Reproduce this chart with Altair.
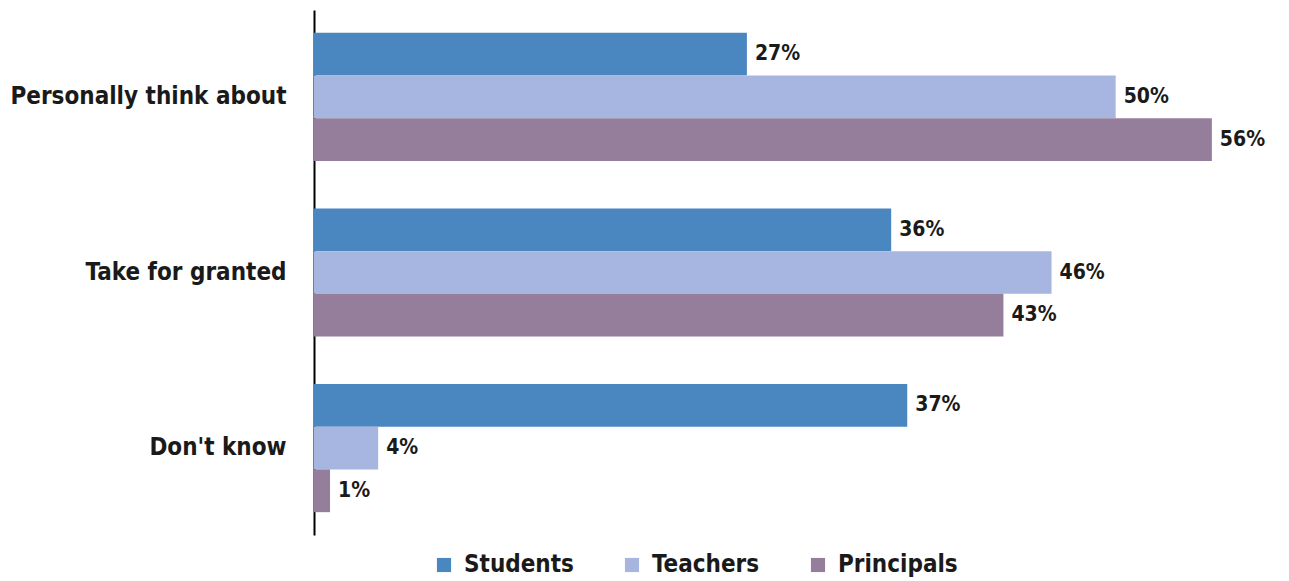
import altair as alt
import pandas as pd

categories = ["Personally think about", "Take for granted", "Don't know"]
groups = ["Students", "Teachers", "Principals"]
students = [27, 36, 37]
teachers = [50, 46, 4]
principals = [56, 43, 1]
colors = ["#4a86bf", "#a6b6e0", "#957e9c"]

rows = []
for i, c in enumerate(categories):
    for g, vals in zip(groups, [students, teachers, principals]):
        rows.append({"category": c, "group": g, "value": vals[i], "label": f"{vals[i]}%"})
df = pd.DataFrame(rows)

FONT = "DejaVu Sans Condensed, Roboto, sans-serif"

y = alt.Y("category:N", sort=categories, title=None,
          scale=alt.Scale(paddingInner=0.27, paddingOuter=0.13),
          axis=alt.Axis(domainColor="#000000", domainWidth=2, ticks=False,
                        labelFont=FONT, labelFontSize=24, labelFontWeight="bold",
                        labelColor="#1a1a1a", labelPadding=28, labelLimit=400))
yoff = alt.YOffset("group:N", sort=groups, scale=alt.Scale(paddingInner=0, paddingOuter=0))
x = alt.X("value:Q", scale=alt.Scale(domain=[0, 60]), axis=None)

bars = alt.Chart(df).mark_bar().encode(
    x=x, y=y, yOffset=yoff,
    color=alt.Color("group:N", sort=groups,
                    scale=alt.Scale(domain=groups, range=colors),
                    legend=alt.Legend(title=None, orient="none", direction="horizontal",
                                      legendX=118, legendY=543,
                                      symbolType="square", symbolSize=200,
                                      symbolStrokeWidth=0,
                                      labelFont=FONT, labelFontSize=24,
                                      labelFontWeight="bold", labelColor="#1a1a1a",
                                      columnPadding=46, labelOffset=8))
)

text = alt.Chart(df).mark_text(align="left", baseline="middle", dx=8,
                               font=FONT, fontSize=21, fontWeight="bold",
                               color="#1a1a1a").encode(
    x=x, y=y, yOffset=yoff, text="label:N")

chart = (bars + text).properties(
    width=962, height=525,
    padding={"left": 306, "top": 2, "right": 5, "bottom": 48},
    autosize=alt.AutoSizeParams(type="none"),
    background="#ffffff",
).configure_view(strokeWidth=0, stroke="transparent")

chart.save("out.html", embed_options={"renderer": "svg", "actions": False})
